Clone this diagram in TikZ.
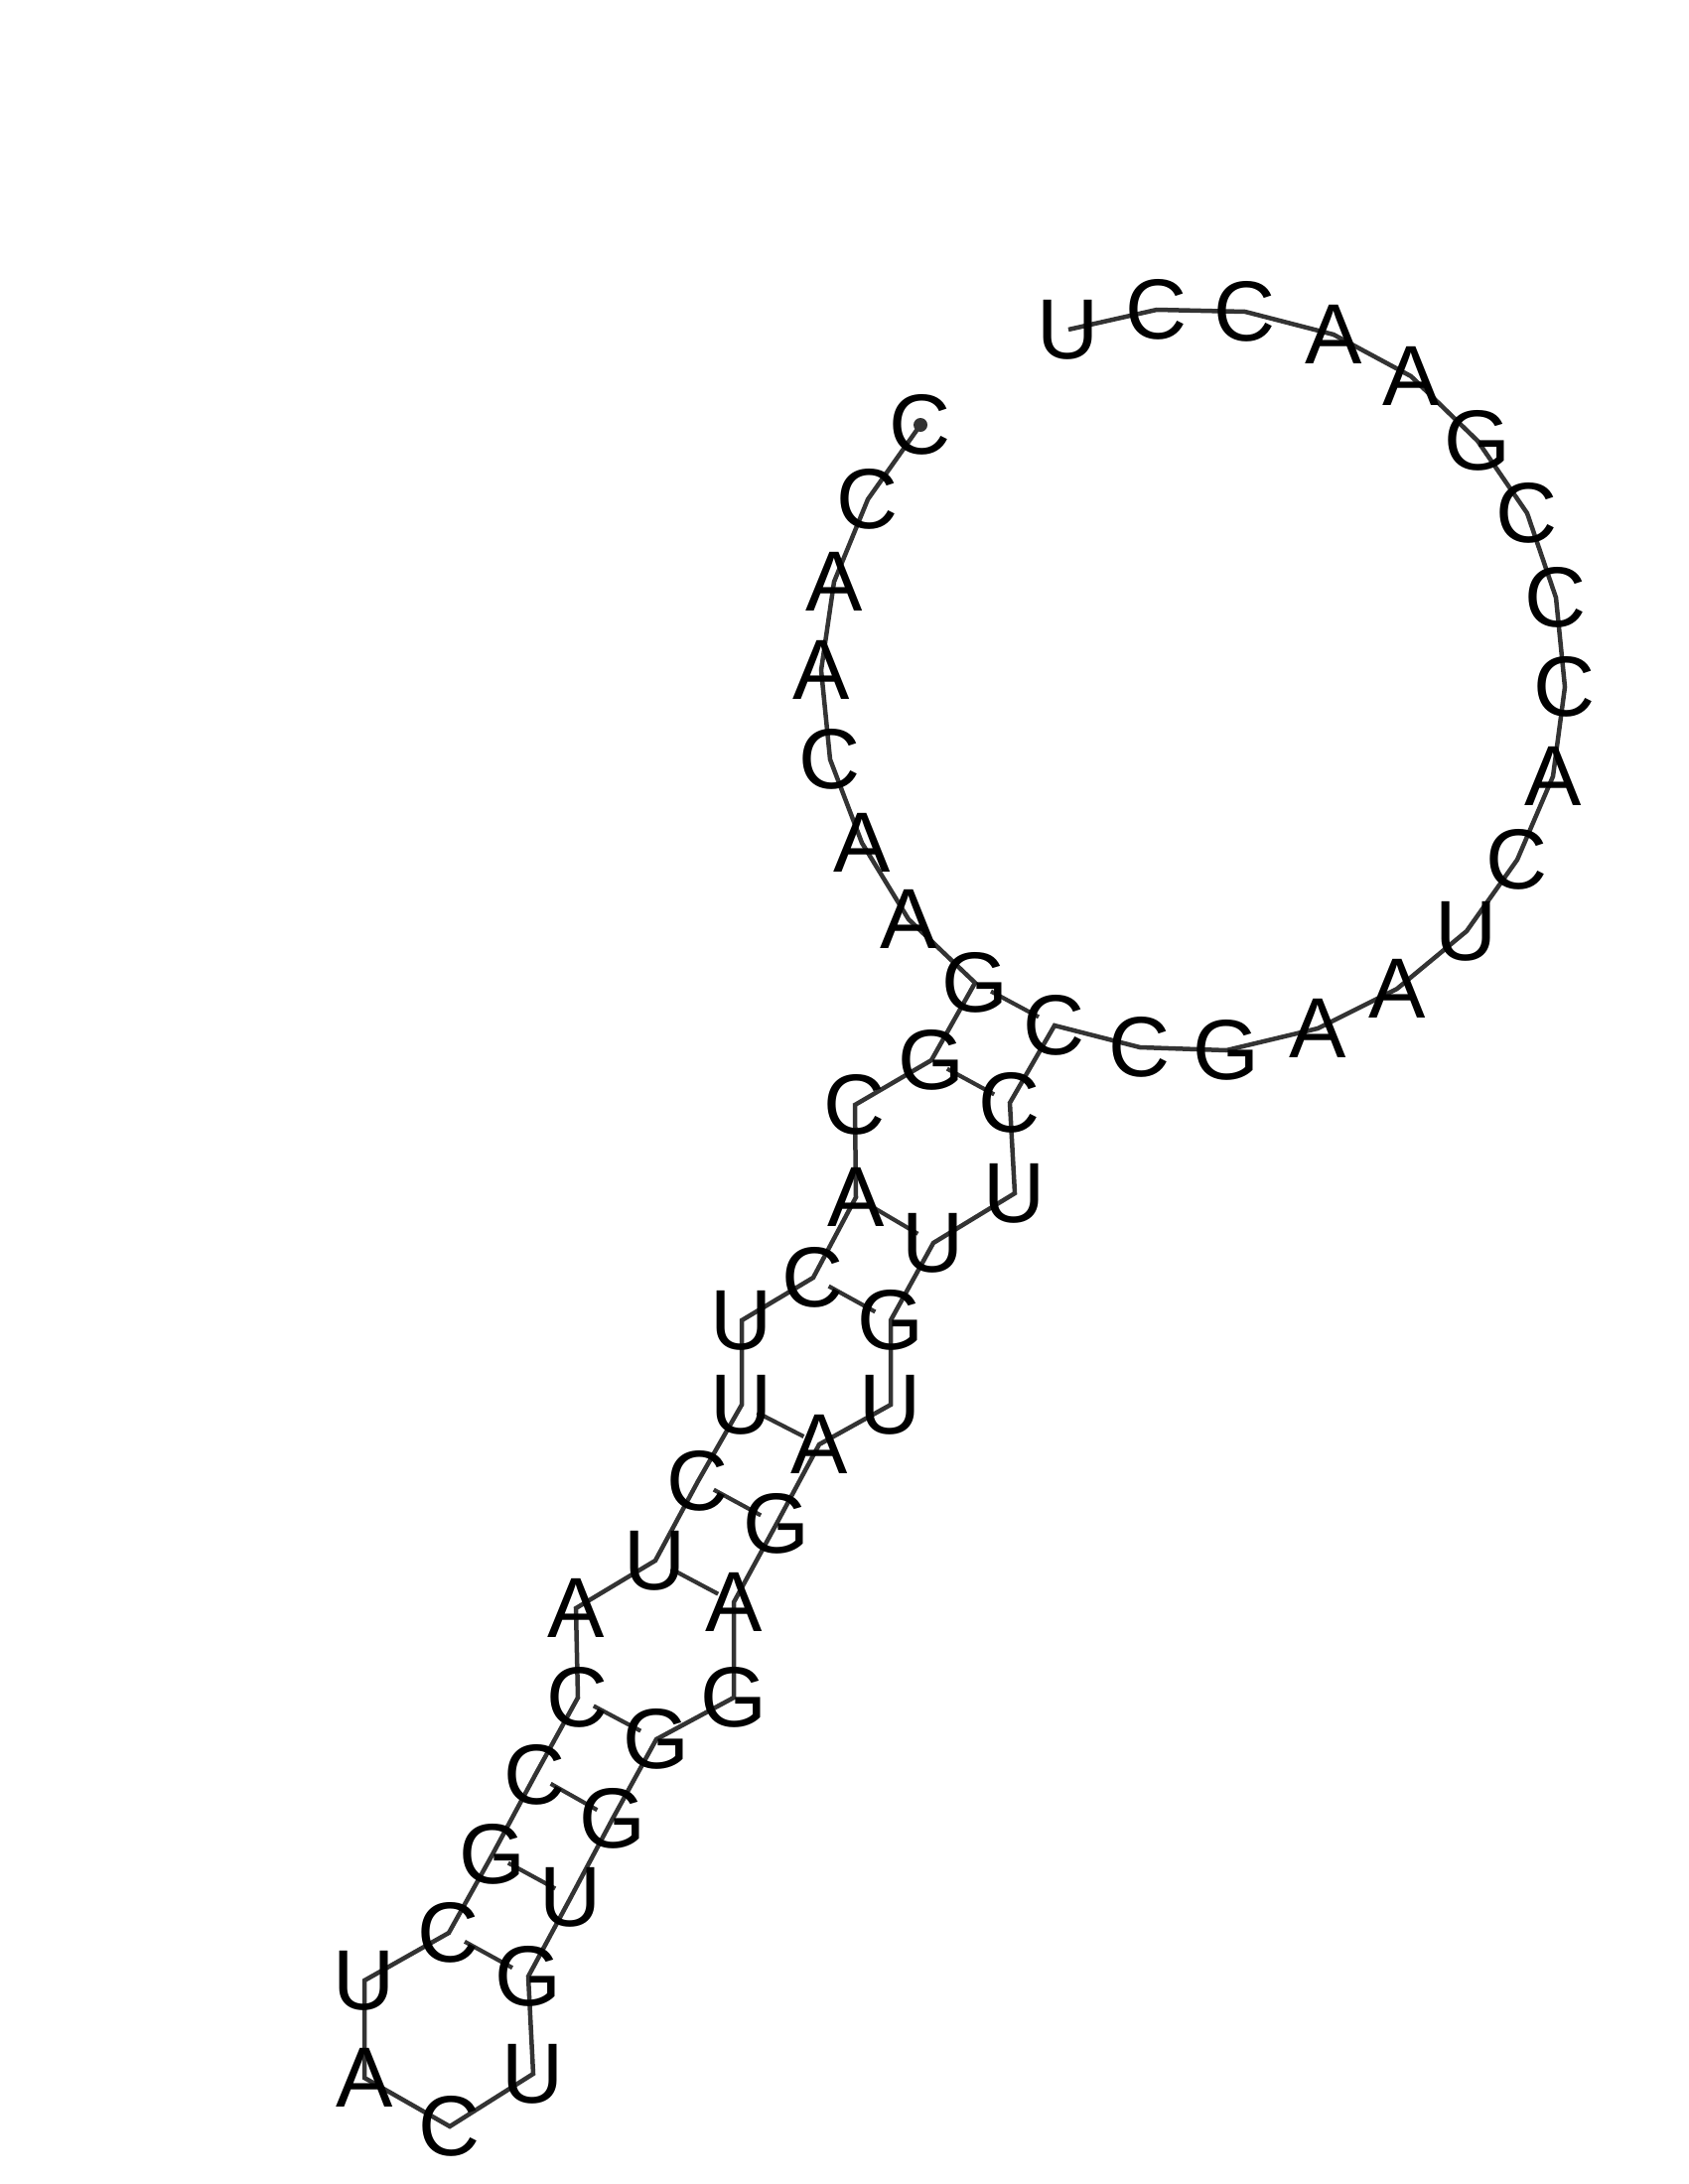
\documentclass[tikz,border=0pt]{standalone}
\usepackage{fontspec}
\setmainfont{Liberation Sans}
\usetikzlibrary{calc}
\definecolor{linegray}{RGB}{51,51,51}
\tikzset{
  base/.style={inner sep=0pt, outer sep=0pt, font=\fontsize{25.8pt}{30pt}\selectfont, text=black},
  backbone/.style={draw=linegray, line width=1.35pt},
  pairline/.style={draw=linegray, line width=1.25pt},
}
\begin{document}
\begin{tikzpicture}[x=0.3pt,y=-0.3pt]
\useasboundingbox (0,0) rectangle (1700,2200);
\foreach \i/\x/\y in {
 1/927/428, 2/874/503, 3/840/586, 4/827/675, 5/836/765, 6/868/849, 7/915/926,
 8/982/990, 9/938/1068, 10/861/1113, 11/862/1206, 12/819/1287, 13/747/1330,
 14/747/1415, 15/703/1492, 16/660/1572, 17/580/1620, 18/582/1710, 19/539/1788,
 20/496/1868, 21/452/1947, 22/367/1995, 23/367/2093, 24/453/2142, 25/537/2089,
 26/532/1991, 27/575/1911, 28/617/1832, 29/661/1752, 30/739/1710, 31/739/1614,
 32/782/1535, 33/825/1455, 34/897/1415, 35/897/1330, 36/940/1252, 37/1022/1202,
 38/1017/1111, 39/1062/1033, 40/1148/1055, 41/1235/1058, 42/1327/1036,
 43/1407/996, 44/1477/938, 45/1528/866, 46/1564/782, 47/1576/692, 48/1567/602,
 49/1538/517, 50/1488/444, 51/1421/379, 52/1343/337, 53/1254/314, 54/1165/312,
 55/1076/332}
  \coordinate (n\i) at (\x,\y);
% backbone
\draw[backbone] (n1) \foreach \i in {2,...,55} { -- (n\i) };
% base pairs
\foreach \a/\b in {8/39, 9/38, 11/36, 12/35, 14/33, 15/32, 16/31, 18/29, 19/28, 20/27, 21/26}
  \draw[pairline] ($(n\a)!0.2!(n\b)$) -- ($(n\a)!0.8!(n\b)$);
% 5' marker
\fill[linegray] (n1) circle (2.1pt);
% letters
\foreach \i/\l in {1/C,2/C,3/A,4/A,5/C,6/A,7/A,8/G,9/G,10/C,11/A,12/C,13/U,14/U,15/C,
 16/U,17/A,18/C,19/C,20/G,21/C,22/U,23/A,24/C,25/U,26/G,27/U,28/G,29/G,30/G,31/A,
 32/G,33/A,34/U,35/G,36/U,37/U,38/C,39/C,40/C,41/G,42/A,43/A,44/U,45/C,46/A,47/C,
 48/C,49/C,50/G,51/A,52/A,53/C,54/C,55/U}
  \node[base] (b\i) at (n\i) {\l};
\end{tikzpicture}
\end{document}
